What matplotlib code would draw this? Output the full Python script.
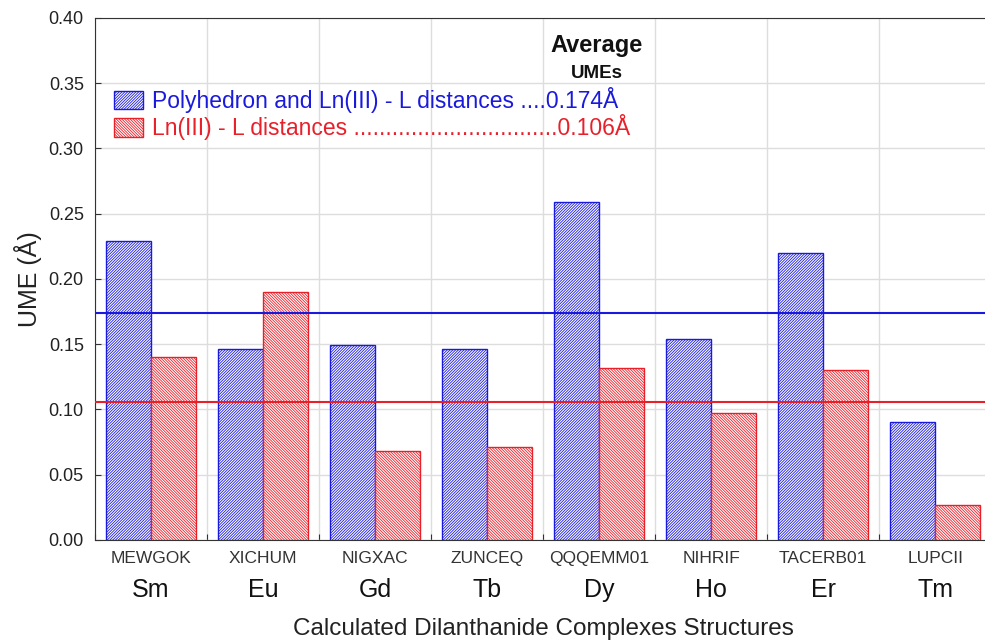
import numpy as np
import matplotlib
matplotlib.use('Agg')
from matplotlib import pyplot as plt
from matplotlib.patches import Patch
import matplotlib.transforms as mtransforms

plt.rcParams['font.family'] = ['Liberation Sans', 'DejaVu Sans']
plt.rcParams['hatch.linewidth'] = 0.6

codes = ['MEWGOK', 'XICHUM', 'NIGXAC', 'ZUNCEQ', 'QQQEMM01', 'NIHRIF', 'TACERB01', 'LUPCII']
elements = ['Sm', 'Eu', 'Gd', 'Tb', 'Dy', 'Ho', 'Er', 'Tm']
poly_ume = [0.229, 0.146, 0.149, 0.146, 0.259, 0.154, 0.220, 0.090]
ln_ume = [0.140, 0.190, 0.068, 0.071, 0.132, 0.097, 0.130, 0.027]
avg_poly = 0.174
avg_ln = 0.106

blue = '#1a1adc'
red = '#e8202a'
hatch_b = '/' * 12
hatch_r = '\\' * 12

fig = plt.figure(figsize=(9.85, 6.42), dpi=100)
ax = fig.add_axes([0.0964, 0.159, 0.91, 0.813])

x = np.arange(len(codes)) + 0.5
w = 0.4
ax.bar(x - w/2, poly_ume, w, facecolor='white', edgecolor=blue, hatch=hatch_b, linewidth=1, zorder=3)
ax.bar(x + w/2, ln_ume, w, facecolor='white', edgecolor=red, hatch=hatch_r, linewidth=1, zorder=3)

ax.axhline(avg_poly, color=blue, lw=1.5, zorder=4)
ax.axhline(avg_ln, color=red, lw=1.5, zorder=4)

ax.set_xlim(0, len(codes))
ax.set_ylim(0, 0.40)
ax.set_yticks(np.arange(0, 0.401, 0.05))
ax.set_yticklabels(['%.2f' % v for v in np.arange(0, 0.401, 0.05)], fontsize=13, color='#222222')
ax.set_xticks(np.arange(0, len(codes) + 1))
ax.set_xticklabels([])
ax.tick_params(axis='x', length=4, direction='in', color='#333333')
ax.tick_params(axis='y', length=4, direction='in', color='#333333', pad=8)
ax.grid(True, color='#dddddd', lw=1, zorder=0)
for s in ax.spines.values():
    s.set_color('#333333')

trans = mtransforms.blended_transform_factory(ax.transData, ax.transAxes)
for xi, c, e in zip(x, codes, elements):
    ax.text(xi, -0.036, c, transform=trans, ha='center', va='center', fontsize=12.5, color='#333333')
    ax.text(xi, -0.096, e, transform=trans, ha='center', va='center', fontsize=18, color='#111111')

ax.text(4.0, -0.170, 'Calculated Dilanthanide Complexes Structures', transform=trans,
        ha='center', va='center', fontsize=17.5, color='#222222')
ax.set_ylabel('UME (Å)', fontsize=18, color='#222222', labelpad=5)

handles = [Patch(facecolor='white', edgecolor=blue, hatch=hatch_b),
           Patch(facecolor='white', edgecolor=red, hatch=hatch_r)]
labels = ['Polyhedron and Ln(III) - L distances ....0.174Å',
          'Ln(III) - L distances ................................0.106Å']
leg = ax.legend(handles, labels, loc='upper left', bbox_to_anchor=(0.011, 0.885), frameon=False,
                fontsize=16.5, handlelength=1.25, handleheight=0.85, handletextpad=0.4,
                labelspacing=0.05, borderaxespad=0)
for t, col in zip(leg.get_texts(), [blue, red]):
    t.set_color(col)

ax.text(0.5595, 0.948, 'Average', transform=ax.transAxes, ha='center', va='center',
        fontsize=17, fontweight='bold', color='#111111')
ax.text(0.5595, 0.893, 'UMEs', transform=ax.transAxes, ha='center', va='center',
        fontsize=13.5, fontweight='bold', color='#111111')

fig.savefig('out.png', dpi=100)
